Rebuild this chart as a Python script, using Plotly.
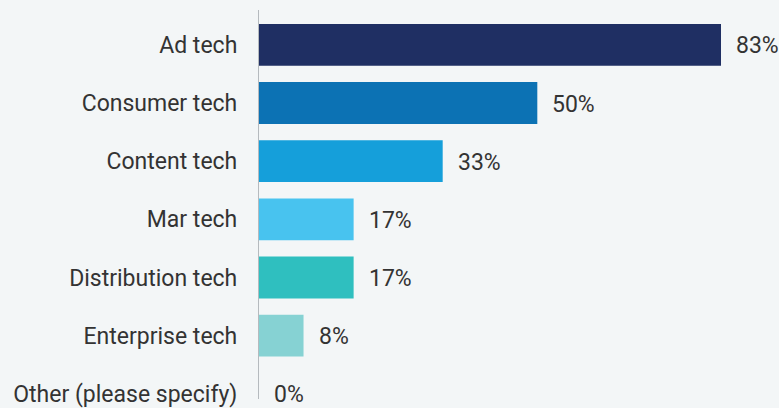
import plotly.graph_objects as go

categories = ["Ad tech", "Consumer tech", "Content tech", "Mar tech",
              "Distribution tech", "Enterprise tech", "Other (please specify)"]
values = [83, 50, 33, 17, 17, 8, 0]
labels = ["83%", "50%", "33%", "17%", "17%", "8%", "0%"]
colors = ["#1f2f63", "#0c72b4", "#159fda", "#48c3ef", "#2fbfbf", "#86d2d3", "#86d2d3"]

FONT = "Roboto"
TEXT = "#333333"
BG = "#f3f6f7"

fig = go.Figure()
fig.add_trace(go.Bar(
    y=categories, x=values, orientation="h",
    marker=dict(color=colors, line=dict(width=0)),
    width=0.72, hoverinfo="skip", showlegend=False,
))

for c, v, t in zip(categories, values, labels):
    fig.add_annotation(x=v, y=c, text=t, showarrow=False, xanchor="left",
                       yanchor="middle", xshift=13, yshift=-1,
                       font=dict(family=FONT, size=23, color=TEXT))

fig.update_layout(
    width=779, height=408,
    margin=dict(l=259, r=0, t=10, b=0, pad=0),
    paper_bgcolor=BG, plot_bgcolor=BG,
    font=dict(family=FONT, size=23, color=TEXT),
    bargap=0.28,
)
fig.update_xaxes(range=[0, 520 / (462 / 83)], showgrid=False, zeroline=False,
                 showticklabels=False, showline=False, fixedrange=True)
fig.update_yaxes(type="category", categoryorder="array", categoryarray=categories,
                 range=[6.09, -0.60], autorange=False,
                 showgrid=False, zeroline=False, showline=True,
                 linecolor="#b5babe", linewidth=1.2, ticks="",
                 ticklabelstandoff=16, tickfont=dict(family=FONT, size=23, color=TEXT))

fig.write_html(
    "out.html",
    config={"displayModeBar": False},
    post_script="document.body.style.margin='0';document.body.style.overflow='hidden';"
                "document.body.style.background='" + BG + "';",
)
